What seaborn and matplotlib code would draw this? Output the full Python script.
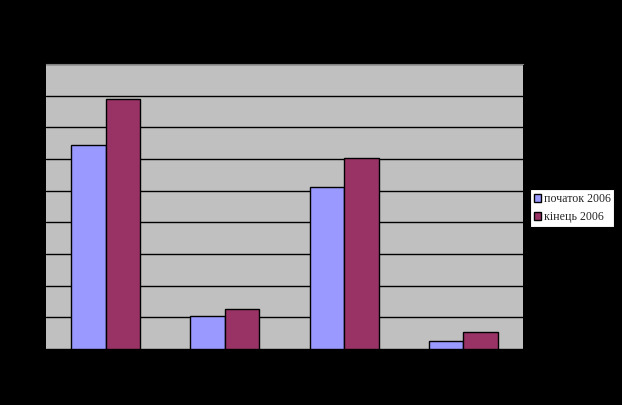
import matplotlib
matplotlib.use("Agg")
import matplotlib.pyplot as plt
import seaborn as sns
import pandas as pd

categories = ["1", "2", "3", "4"]
series_names = ["початок 2006", "кінець 2006"]
start_2006 = [6.44, 1.04, 5.12, 0.25]
end_2006 = [7.89, 1.26, 6.03, 0.54]
colors = ["#9999ff", "#993366"]

df = pd.DataFrame({
    "cat": categories * 2,
    "series": [series_names[0]] * 4 + [series_names[1]] * 4,
    "value": start_2006 + end_2006,
})

sns.set_style("white")
plt.rcParams['font.family'] = ['Liberation Serif', 'DejaVu Serif']

fig = plt.figure(figsize=(6.22, 4.05), dpi=100, facecolor="black")
ax = fig.add_axes([46/622, 1-349/405, (523-46)/622, (349-64)/405])
ax.set_facecolor("#c0c0c0")

sns.barplot(data=df, x="cat", y="value", hue="series", palette=colors,
            width=0.58, edgecolor="black", linewidth=1.0, ax=ax,
            saturation=1, legend=True)

ax.set_ylim(0, 9)
ax.set_yticks(range(0, 10))
ax.grid(axis="y", color="black", linewidth=1.0)
ax.set_axisbelow(True)
ax.tick_params(length=0, labelleft=False, labelbottom=False)
ax.set_xlabel("")
ax.set_ylabel("")
for s in ["left", "right", "bottom"]:
    ax.spines[s].set_visible(False)
ax.spines["top"].set_color("#808080")

handles, labels = ax.get_legend_handles_labels()
leg = ax.legend(handles, labels, loc="center left", bbox_to_anchor=(530/622, 1-208/405),
          bbox_transform=fig.transFigure, frameon=True, fancybox=False,
          edgecolor="black", facecolor="white", framealpha=1, fontsize=8.6,
          handlelength=0.6, handleheight=0.6, handletextpad=0.25,
          borderpad=0.3, borderaxespad=0, labelspacing=0.5)
leg.get_frame().set_linewidth(0.8)

fig.savefig("out.png", dpi=100, facecolor="black")
